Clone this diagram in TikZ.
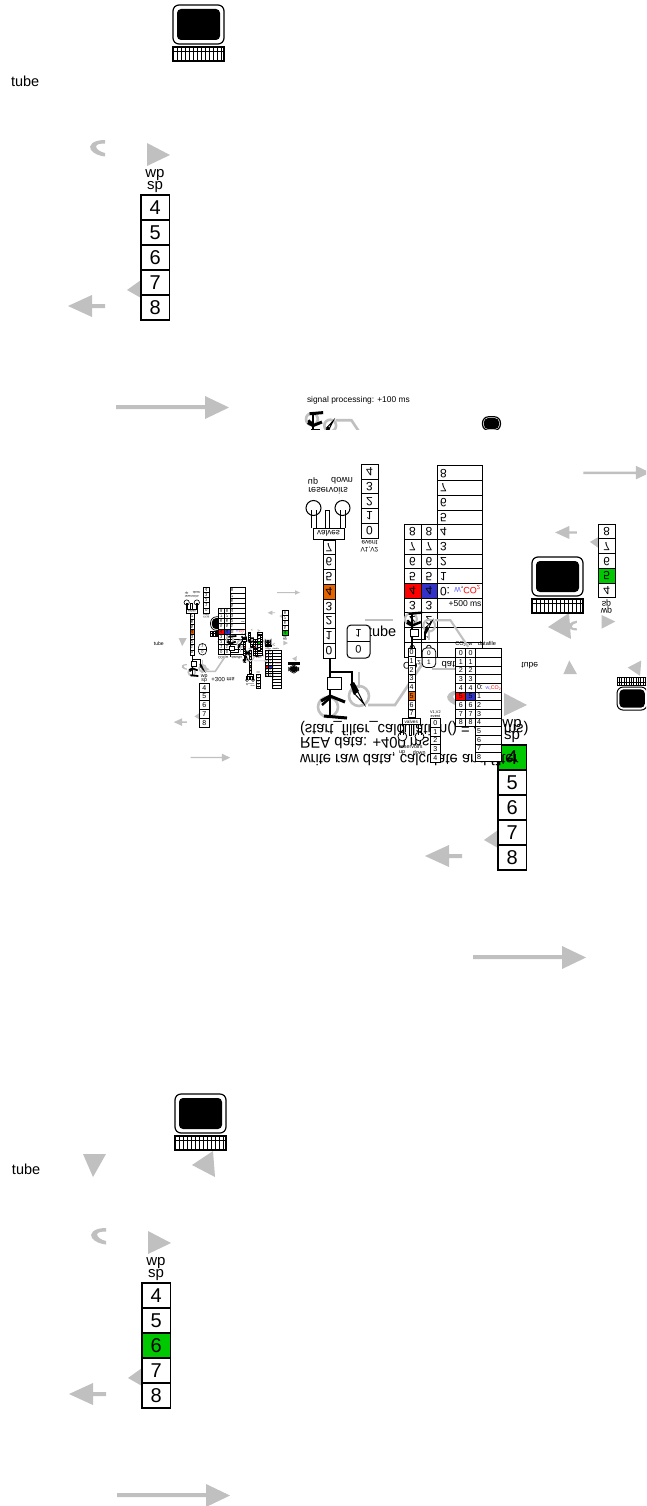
\documentclass[tikz,border=0pt]{standalone}
\usepackage{fontspec}
\setmainfont{Liberation Sans}
\definecolor{arrowgray}{RGB}{192,192,192}
\definecolor{okgreen}{RGB}{0,200,0}
\definecolor{valveorange}{RGB}{230,100,0}
\definecolor{hired}{RGB}{255,0,0}
\definecolor{hiblue}{RGB}{50,50,200}
\newcommand\fz[1]{\fontsize{#1}{#1}\selectfont}
\newcommand\cotwo{CO\raisebox{-.3ex}{\scalebox{.65}{2}}}
\def\lw{1.2}
\tikzset{
  cell/.style={draw=black,line width=\lw pt,inner sep=0pt,outer sep=0pt,anchor=center,text=black},
  txt/.style={inner sep=0pt,outer sep=0pt,text=black},
  gfill/.style={fill=arrowgray,draw=none},
  gline/.style={draw=arrowgray,line width=2.6pt},
  blk/.style={draw=black,line width=\lw pt},
}
% column of cells: name, left, top, width, cell height, list, font, highlighted index, colour
\newcommand\Col[9]{%
  \foreach \d [count=\i from 0] in {#6} {%
    \ifnum\i=#8 \def\cc{#9}\else\def\cc{white}\fi
    \node[cell,fill=\cc,minimum width=#4pt,minimum height=#5pt,font=\fz{#7}] (#1\i) at ({#2+#4/2},{#3+#5*\i+#5/2}) {\d};
  }%
}
% computer
\newcommand\Comp[1]{%
  \begin{scope}[shift={(#1)}]
    \draw[fill=white,draw=black,line width=\lw pt,rounded corners=6pt] (173,5) rectangle (224,44);
    \fill[black,rounded corners=4pt] (177,9) rectangle (220,40);
    \draw[fill=white,draw=black,line width=\lw pt] (173,47) rectangle (224,61);
    \draw[black,line width=.7*\lw pt] (173,51.5) -- (224,51.5);
    \foreach \kx in {177,181,185,189,193,197,201,205,209,213,217,221} \draw[black,line width=.7*\lw pt] (\kx,47) -- (\kx,61);
  \end{scope}%
}
% repeating frame: prefix, transform, line width, green index, extra triangles, computer offset
\newcommand\Frame[6]{%
  \begin{scope}[#2,transform shape,name prefix=#1-]
    \def\lw{#3}
    \ifnum#5=1
      \fill[gfill] (82,66) -- (105,66) -- (92,89) -- cycle;
      \fill[gfill] (191,77) -- (212,63) -- (214,89) -- cycle;
    \fi
    \fill[gfill] (105,140) .. controls (92,140) and (88,146) .. (91,150) .. controls (94,154) and (100,156) .. (105,156.5) -- (105,153) .. controls (100,152) and (96,149) .. (96,146) .. controls (97,144) and (101,143.5) .. (105,143.5) -- cycle;
    \fill[gfill] (147,143) -- (170,155) -- (147,166) -- cycle;
    \fill[gfill] (127,290) -- (141,280) -- (141,298) -- cycle;
    \fill[gfill] (68,306) -- (92,295) -- (92,304) -- (105,304) -- (105,308) -- (92,308) -- (92,317) -- cycle;
    \fill[gfill] (116,405) -- (205,405) -- (205,396) -- (229,407.5) -- (205,419) -- (205,409) -- (116,409) -- cycle;
    \Comp{#6}
    \node[txt,anchor=west,font=\fz{14.5}] (tube) at (11,81) {tube};
    \node[txt,font=\fz{15}] (wp) at (155,175) {wp};
    \node[txt,font=\fz{15}] (sp) at (155,187) {sp};
    \Col{c}{141}{195}{28.5}{25}{4,5,6,7,8}{20}{#4}{okgreen}
  \end{scope}%
}
% tube assembly
\newcommand\Assy{%
  \draw[draw=arrowgray,line width=\lw*2.6 pt] (359,-38) circle (10);
  \draw[draw=arrowgray,line width=\lw*2.6 pt] (328,-49) circle (10);
  \draw[draw=arrowgray,line width=\lw*2.6 pt] (359,-14) -- (359,-30);
  \draw[draw=arrowgray,line width=\lw*2.6 pt] (368,-47) -- (395,-47) -- (425,-2);
  \draw[draw=black,line width=\lw*2.6 pt] (330,0) -- (330,-59);
  \draw[blk,fill=white] (327,-19) rectangle (341,-31);
  \draw[draw=black,line width=\lw*1.8 pt] (331,-14) -- (352,-14) -- (352,-26);
  \draw[blk,fill=white] (353,-34) -- (358,-34) -- (364,-46) -- cycle;
  \fill[black] (350,-26) -- (354,-24) -- (359,-33) -- (354,-37) -- cycle;
  \draw[draw=black,line width=\lw*3 pt] (321,-43) -- (330,-38) -- (345,-44);
  \draw[draw=black,line width=\lw*2.4 pt] (331,-39) -- (322,-47);
  \draw[draw=black,line width=\lw*3 pt] (324,-58) -- (347,-60);
}
% main block: prefix, transform, line width, highlighted index, extra content
\newcommand\Lev[5]{%
  \begin{scope}[#2,transform shape,name prefix=#1-]
    \def\lw{#3}
    \Assy
    \Col{col}{323}{0}{12}{14.75}{0,1,2,3,4,5,6,7}{12}{#4}{valveorange}
    % reservoirs
    \draw[blk,fill=white] (325,130) rectangle (329,148);
    \draw[blk,fill=white] (313.5,150) circle (7.5);
    \draw[blk,fill=white] (342.5,150) circle (7.5);
    \draw[blk] (311,130) -- (311,148) (316,130) -- (316,148);
    \draw[blk] (340,130) -- (340,148) (345,130) -- (345,148);
    \node[cell,minimum width=31pt,minimum height=11pt,fill=white,font=\fz{8}] (valves) at (328.5,124.5) {valves};
    \node[txt,font=\fz{9}] (res) at (328,167) {reservoirs};
    \node[txt,font=\fz{9}] (up) at (313,177) {up};
    \node[txt,font=\fz{9}] (down) at (342,177) {down};
    % V1,V2
    \node[txt,font=\fz{6.5}] (vv) at (369.5,109) {V1,V2};
    \node[txt,font=\fz{6.5}] (ev) at (369.5,115) {event};
    \Col{v}{361}{120}{17}{14.7}{0,1,2,3,4}{12}{-1}{white}
    % 0/1 box
    \draw[blk,fill=white,rounded corners=4pt] (347,0) rectangle (370,33);
    \draw[blk] (347,16.5) -- (370,16.5);
    \node[txt,font=\fz{11}] (b0) at (358.5,8.5) {0};
    \node[txt,font=\fz{11}] (b1) at (358.5,25) {1};
    % table
    \node[txt,font=\fz{9.5}] (h1) at (412,-7) {\cotwo};
    \node[txt,font=\fz{9.5}] (h2) at (429,-7) {w};
    \node[txt,font=\fz{9.5}] (h3) at (457,-7) {datafile};
    \foreach \rr [count=\j from 0] in {0,1,2,3,4,5,6,7,8} {%
      \ifnum\j=#4 \def\ca{hired}\def\cb{hiblue}\else\def\ca{white}\def\cb{white}\fi
      \node[cell,fill=\ca,minimum width=17pt,minimum height=14.7pt,font=\fz{12}] (a\j) at (412.5,{1+14.7*\j+7.35}) {\rr};
      \node[cell,fill=\cb,minimum width=16pt,minimum height=14.7pt,font=\fz{12}] (bb\j) at (429,{1+14.7*\j+7.35}) {\rr};
    }
    \foreach \j in {0,1,...,12} \node[cell,fill=white,minimum width=45pt,minimum height=14.7pt] (f\j) at (459.5,{1+14.7*\j+7.35}) {};
    \node[txt,anchor=west,font=\fz{12}] (zero) at (440,{1+14.7*4+7.35}) {0: {\fz{9}\textcolor{blue!60}{w},\textcolor{red}{\cotwo}}};
    \foreach \n [count=\k from 1] in {1,2,3,4,5,6,7,8} {%
      \node[txt,anchor=west,font=\fz{12}] (n\k) at (440,{1+14.7*(4+\k)+7.35}) {\n};
    }
    #5
  \end{scope}%
}
\begin{document}
\begin{tikzpicture}[x=1pt,y=-1pt]
\useasboundingbox (0,0) rectangle (646,1506);
\clip (0,0) rectangle (646,1506);
\fill[white] (0,0) rectangle (646,1506);

\Frame{ftop}{shift={(0,0)}}{1.2}{-1}{0}{0,0}
\Frame{fbot}{shift={(1,1088)}}{1.2}{2}{1}{1,1}
\Frame{fmid}{shift={(357,550)}}{1.2}{0}{1}{2,2}
\draw[gline] (365,620) -- (393,620);

% main upside-down block
\Lev{la}{shift={(0,658)},yscale=-1}{1}{4}{%
  \node[txt,yscale=-1,font=\fz{8.5}] (p500) at (465,54) {+500 ms};
  \draw[draw=arrowgray,line width=1.6pt] (432,-11) -- (456,-11);}

% clipped piece under the label
\node[txt,anchor=west,font=\fz{8.4}] (sigp) at (307,400) {signal processing: +100 ms};
\begin{scope}
  \clip (290,405) rectangle (520,429);
  \begin{scope}[shift={(118.4,448)},scale=.59,transform shape]
    \def\lw{1}
    \Assy
  \end{scope}
  \begin{scope}[shift={(422,415)},scale=.35,transform shape]
    \def\lw{1.2}
    \Comp{0,0}
  \end{scope}
\end{scope}

\Frame{fflip}{shift={(515,713)},scale=.59,yscale=-1}{1}{1}{1}{0,0}

% big upside-down text
\node[txt,anchor=west,yscale=-1,xscale=.95,font=\fz{15.5}] (t1) at (300,729) {(start\_filter\_calculation() = 4 !!! ms)};
\node[txt,anchor=west,yscale=-1,xscale=.95,font=\fz{15.5}] (t2) at (300,743) {REA data: +400 ms};
\node[txt,anchor=west,yscale=-1,xscale=.95,font=\fz{15.5}] (t3) at (300,759) {write raw data, calculate and filter};

% second level
\Lev{lb}{shift={(217.4,648)},scale=.59}{.8}{5}{}

% small copies on the left
\Frame{fs}{shift={(150,615)},scale=.35}{.7}{-1}{1}{0,0}
\node[txt,yscale=-1,font=\fz{6}] (p300) at (223,680) {+300 ms};
\Lev{lc}{shift={(76.95,655)},scale=.35,yscale=-1}{.6}{4}{}
\begin{scope}[shift={(115,657)},scale=.35,transform shape]
  \def\lw{.6}
  \Assy
\end{scope}
\Frame{ft}{shift={(254,674)},scale=.2,yscale=-1}{.5}{0}{1}{0,0}
\Lev{ld}{shift={(184.4,650)},scale=.2}{.5}{5}{}
\Lev{le}{shift={(204.5,655)},scale=.12,yscale=-1}{.4}{4}{}
\Frame{fu}{shift={(240,612)},scale=.12}{.4}{2}{0}{35,228}
\end{tikzpicture}
\end{document}
